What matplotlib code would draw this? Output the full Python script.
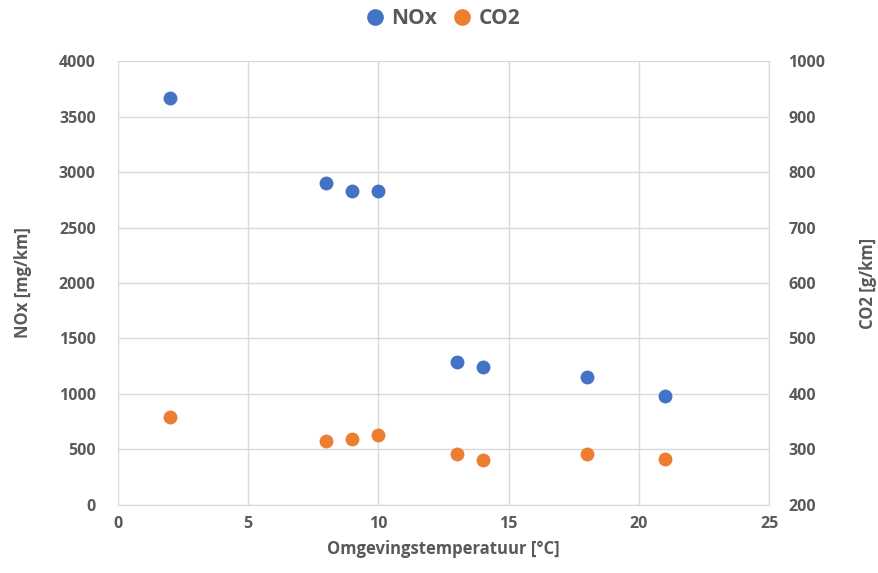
import matplotlib
matplotlib.use("Agg")
import matplotlib.pyplot as plt
from matplotlib.lines import Line2D

temperature = [2, 8, 9, 10, 13, 14, 18, 21]
nox = [3670, 2900, 2830, 2830, 1285, 1245, 1150, 980]
co2 = [359, 315, 319, 326, 292, 281, 292, 282]

blue = "#4472C4"
orange = "#ED7D31"
txt = "#595959"
grid = "#D9D9D9"

plt.rcParams['font.family'] = ['Open Sans', 'DejaVu Sans']

fig = plt.figure(figsize=(8.79, 5.73), dpi=100)
ax = fig.add_axes([0.1342, 0.1187, 0.7407, 0.7748])
ax2 = ax.twinx()

ax.scatter(temperature, nox, s=100, color=blue, zorder=3, linewidths=0)
ax2.scatter(temperature, co2, s=100, color=orange, zorder=3, linewidths=0)

ax.set_xlim(0, 25)
ax.set_ylim(0, 4000)
ax2.set_ylim(200, 1000)
ax.set_xticks(range(0, 26, 5))
ax.set_yticks(range(0, 4001, 500))
ax2.set_yticks(range(200, 1001, 100))

ax.grid(True, color=grid, linewidth=1)
ax.set_axisbelow(True)
for a in (ax, ax2):
    for s in a.spines.values():
        s.set_visible(False)
    a.tick_params(length=0, colors=txt, labelsize=11.5)
ax.spines['bottom'].set_visible(True)
ax.spines['bottom'].set_color(grid)
ax2.spines['right'].set_visible(True)
ax2.spines['right'].set_color(grid)
ax.tick_params(axis='y', pad=16)
ax2.tick_params(axis='y', pad=14)
ax.tick_params(axis='x', pad=8)
for lbl in ax.get_xticklabels() + ax.get_yticklabels() + ax2.get_yticklabels():
    lbl.set_fontweight('bold')

ax.set_xlabel("Omgevingstemperatuur [°C]", color=txt, fontsize=12, fontweight='bold', labelpad=6)
ax.set_ylabel("NOx [mg/km]", color=txt, fontsize=12, fontweight='bold', labelpad=19)
ax2.set_ylabel("CO2 [g/km]", color=txt, fontsize=12, fontweight='bold', labelpad=24)

handles = [Line2D([], [], marker='o', linestyle='', color=blue, markersize=11),
           Line2D([], [], marker='o', linestyle='', color=orange, markersize=11)]
leg = fig.legend(handles, ["NOx", "CO2"], loc='center', bbox_to_anchor=(0.5, 0.968),
                 ncol=2, frameon=False, fontsize=15, handletextpad=0.0, columnspacing=0.4,
                 handlelength=1.6)
for t in leg.get_texts():
    t.set_color(txt)
    t.set_fontweight('bold')

fig.savefig("out.png", dpi=100)
